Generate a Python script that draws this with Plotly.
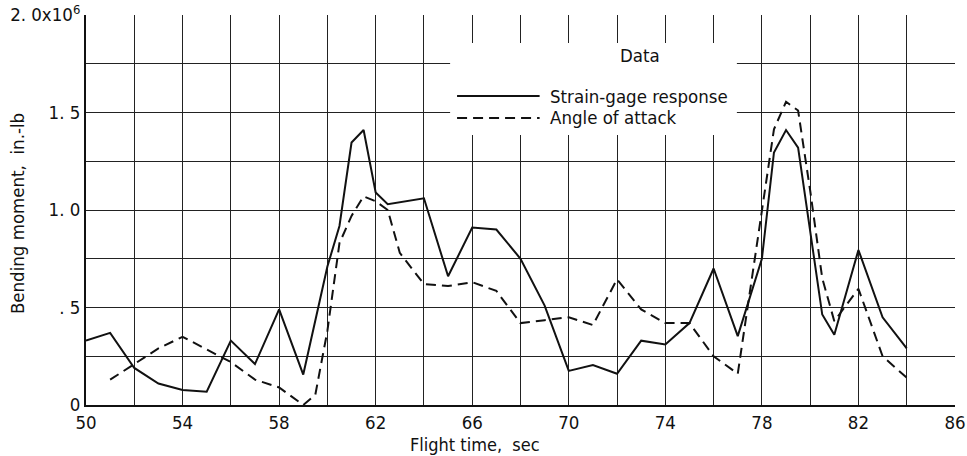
import plotly.graph_objects as go

# Strain-gage response (solid)
strain_t = [50, 51, 52, 53, 54, 55, 56, 57, 58, 59, 60, 60.5, 61, 61.5, 62, 62.5,
            64, 65, 66, 67, 68, 69, 70, 71, 72, 73, 74, 75, 76, 77, 78, 78.5,
            79, 79.5, 80.5, 81, 82, 83, 84]
strain_v = [0.33, 0.37, 0.19, 0.11, 0.077, 0.068, 0.33, 0.21, 0.49, 0.156, 0.71, 0.918,
            1.346, 1.41, 1.09, 1.03, 1.06, 0.66, 0.91, 0.90, 0.75, 0.51, 0.175, 0.205,
            0.16, 0.33, 0.31, 0.42, 0.70, 0.353, 0.75, 1.295, 1.41, 1.32, 0.464, 0.36,
            0.795, 0.45, 0.29]

# Angle of attack (dashed)
aoa_t = [51, 53, 54, 56, 57, 58, 59, 59.5, 60, 60.5, 61, 61.5, 62, 62.5, 63, 64, 65,
         66, 67, 68, 69, 70, 71, 72, 73, 74, 75, 76, 77, 78.5, 79, 79.5, 80, 80.5,
         81, 82, 83, 84]
aoa_v = [0.13, 0.29, 0.35, 0.22, 0.13, 0.09, 0.0, 0.053, 0.38, 0.83, 0.97, 1.07, 1.045,
         1.0, 0.78, 0.62, 0.61, 0.63, 0.585, 0.42, 0.435, 0.45, 0.41, 0.645, 0.49, 0.42,
         0.42, 0.25, 0.16, 1.414, 1.555, 1.51, 1.1, 0.65, 0.43, 0.596, 0.25, 0.14]

x_ticks = list(range(50, 87, 4))
x_labels = [str(v) for v in x_ticks]
y_ticks = [0, 0.5, 1.0, 1.5, 2.0]
y_labels = ["0", ". 5", "1. 0", "1. 5", "2. 0x10<sup>6</sup>"]

FONT = "Liberation Sans Narrow, DejaVu Sans Condensed, Arial Narrow, Roboto, sans-serif"
INK = "#111111"
GRID = "#222222"

fig = go.Figure()
fig.add_trace(go.Scatter(x=strain_t, y=strain_v, mode="lines", name="Strain-gage response",
                         line=dict(color=INK, width=2), showlegend=False))
fig.add_trace(go.Scatter(x=aoa_t, y=aoa_v, mode="lines", name="Angle of attack",
                         line=dict(color=INK, width=2, dash="10px,6px"), showlegend=False))

fig.update_layout(
    width=967, height=456,
    margin=dict(l=86, r=12, t=15, b=51, autoexpand=False),
    paper_bgcolor="white", plot_bgcolor="white",
    font=dict(family=FONT, size=18.5, color=INK),
    xaxis=dict(range=[50, 86], tickvals=x_ticks, ticktext=x_labels,
               showgrid=True, gridcolor=GRID, gridwidth=1.3,
               minor=dict(tickvals=list(range(50, 87, 2)), showgrid=True,
                          gridcolor=GRID, gridwidth=1.3, ticks=""),
               showline=True, linecolor=INK, linewidth=2,
               zeroline=False, ticks="", automargin=False, fixedrange=True),
    yaxis=dict(range=[0, 2.0], tickvals=y_ticks, ticktext=y_labels,
               showgrid=True, gridcolor=GRID, gridwidth=1.3,
               minor=dict(tickvals=[0.25, 0.75, 1.25, 1.75], showgrid=True,
                          gridcolor=GRID, gridwidth=1.3, ticks=""),
               showline=True, linecolor=INK, linewidth=2,
               zeroline=False, ticks="", automargin=False, fixedrange=True,
               ticklabeloverflow="allow"),
)

# legend box (white patch over the grid)
fig.add_shape(type="rect", xref="paper", yref="paper", x0=0.419, x1=0.749, y0=0.692, y1=0.928,
              fillcolor="white", line=dict(width=0), layer="above")
fig.add_shape(type="line", xref="paper", yref="paper", x0=0.427, x1=0.522, y0=0.792, y1=0.792,
              line=dict(color=INK, width=2), layer="above")
fig.add_shape(type="line", xref="paper", yref="paper", x0=0.427, x1=0.522, y0=0.736, y1=0.736,
              line=dict(color=INK, width=2, dash="10px,6px"), layer="above")
fig.add_annotation(text="Data", xref="paper", yref="paper", x=0.6375, y=0.897,
                   showarrow=False, xanchor="center", yanchor="middle")
fig.add_annotation(text="Strain-gage response", xref="paper", yref="paper", x=0.532, y=0.792,
                   showarrow=False, xanchor="left", yanchor="middle")
fig.add_annotation(text="Angle of attack", xref="paper", yref="paper", x=0.532, y=0.736,
                   showarrow=False, xanchor="left", yanchor="middle")

# axis titles
fig.add_annotation(text="Flight time,  sec", xref="paper", yref="paper", x=0.448, y=-0.102,
                   showarrow=False, xanchor="center", yanchor="middle", font=dict(size=18))
fig.add_annotation(text="Bending moment,  in.-lb", xref="paper", yref="paper", x=-0.078, y=0.49,
                   showarrow=False, xanchor="center", yanchor="middle", textangle=-90)

fig.write_html("out.html", config={"displayModeBar": False},
               post_script="document.body.style.margin='0';document.body.style.overflow='hidden';")
